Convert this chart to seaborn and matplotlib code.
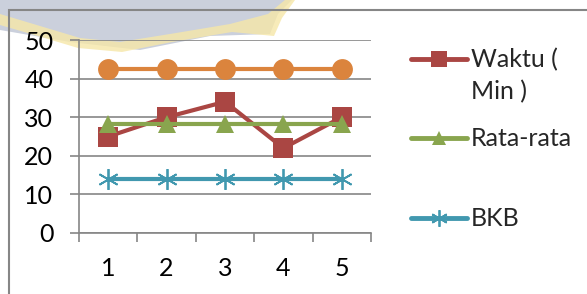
import matplotlib
matplotlib.use('Agg')
import matplotlib.pyplot as plt
from matplotlib.patches import Rectangle, Polygon
from matplotlib.lines import Line2D
from matplotlib.legend_handler import HandlerLine2D
import seaborn as sns
import pandas as pd

# data
percobaan = [1, 2, 3, 4, 5]
waktu = [25, 30, 34, 22, 30]
rata_rata = [28.2, 28.2, 28.2, 28.2, 28.2]
bkb = [14.1, 14.1, 14.1, 14.1, 14.1]
ukb = [42.4, 42.4, 42.4, 42.4, 42.4]

dados = pd.DataFrame({'x': percobaan, 'waktu': waktu, 'rata': rata_rata,
                      'bkb': bkb, 'ukb': ukb})

merah = '#AA4643'
hijau = '#89A54E'
biru = '#4198AF'
oranye = '#DB843D'
abu = '#868686'

sns.set_style('white')
plt.rcParams['font.family'] = ['Lato', 'DejaVu Sans']

fig = plt.figure(figsize=(5.87, 2.94), dpi=100)


def px(x, y):
    # pixel position (from top-left) -> figure fraction
    return (x / 587, 1 - y / 294)


# faint watermark behind the chart (top-left)
fig.patches.append(Polygon([px(0, 0), px(292, 0), px(278, 14), px(270, 34),
                            px(210, 36), px(140, 50), px(70, 42), px(0, 30)],
                           closed=True, transform=fig.transFigure,
                           facecolor='#CBD0DC', edgecolor='none', zorder=-2))
fig.patches.append(Polygon([px(0, 14), px(40, 26), px(80, 38), px(120, 42),
                            px(170, 34), px(230, 24), px(268, 14), px(285, 0),
                            px(295, 0), px(282, 18), px(274, 36), px(232, 32),
                            px(172, 42), px(122, 52), px(78, 48), px(38, 36),
                            px(0, 25)],
                           closed=True, transform=fig.transFigure,
                           facecolor='#F6E7A8', edgecolor='none', alpha=0.8,
                           zorder=-1))

ax = fig.add_axes([79 / 587, 61 / 294, 292 / 587, 193 / 294])
ax.patch.set_alpha(0)

series = [
    ('waktu', 'Waktu (\nMin )', merah, 's', 14.5, 0),
    ('rata', 'Rata-rata', hijau, '^', 13, 0),
    ('bkb', 'BKB', biru, (6, 2, 0), 15, 1.3),
    ('ukb', 'UKB', oranye, 'o', 15, 0),
]
handles = []
for coluna, nome, cor, marca, tam, mew in series:
    sns.lineplot(x='x', y=coluna, data=dados, ax=ax, color=cor, linewidth=3,
                 marker=marca, markersize=tam, markeredgewidth=mew,
                 markeredgecolor=cor, markerfacecolor=cor)
    handles.append(Line2D([], [], color=cor, linewidth=3.5, marker=marca,
                          markersize=tam * 0.8, markeredgewidth=mew,
                          markeredgecolor=cor, markerfacecolor=cor,
                          solid_capstyle='round', label=nome))

ax.set_xlim(0.5, 5.5)
ax.set_ylim(0, 50)
ax.set_yticks([0, 10, 20, 30, 40, 50])
ax.set_xticks(percobaan)
ax.set_xticks([0.5, 1.5, 2.5, 3.5, 4.5, 5.5], minor=True)
ax.set_xlabel('')
ax.set_ylabel('')
ax.grid(axis='y', color=abu, linewidth=1.2)
ax.set_axisbelow(True)
for lado in ['top', 'right']:
    ax.spines[lado].set_visible(False)
for lado in ['left', 'bottom']:
    ax.spines[lado].set_color(abu)
    ax.spines[lado].set_linewidth(1.2)
ax.tick_params(axis='y', which='major', left=True, length=6.5, width=1.2,
               color=abu, pad=12, labelsize=18, labelcolor='black')
ax.tick_params(axis='x', which='major', bottom=False, length=0, pad=17,
               labelsize=18, labelcolor='black')
ax.tick_params(axis='x', which='minor', bottom=True, length=6.5, width=1.2,
               color=abu)


class HandlerNaik(HandlerLine2D):
    # put the handle next to the first line of a two-line label
    def __init__(self, naik=0, **kw):
        super().__init__(**kw)
        self.naik = naik

    def create_artists(self, legend, orig_handle, xdescent, ydescent, width,
                       height, fontsize, trans):
        return super().create_artists(legend, orig_handle, xdescent,
                                      ydescent - 2 * self.naik, width, height,
                                      fontsize, trans)


# one legend per entry, like the spread-out Excel legend
linhas_legenda = [75.5, 139, 219]
for h, y in zip(handles[:3], linhas_legenda):
    mapa = {h: HandlerNaik(naik=12.6)} if '\n' in h.get_label() else None
    leg = fig.legend(handles=[h], loc='center left', bbox_to_anchor=px(411, y),
                     frameon=False, fontsize=18, handlelength=2.25,
                     handletextpad=0.15, borderpad=0, borderaxespad=0,
                     numpoints=1, handler_map=mapa)
    for t in leg.get_texts():
        t.set_linespacing(1.45)

# chart frame
fig.patches.append(Rectangle(px(9, 400), 2, 390 / 294,
                             transform=fig.transFigure, fill=False,
                             edgecolor=abu, linewidth=1.5, zorder=1))

plt.savefig('out.png', dpi=100)
